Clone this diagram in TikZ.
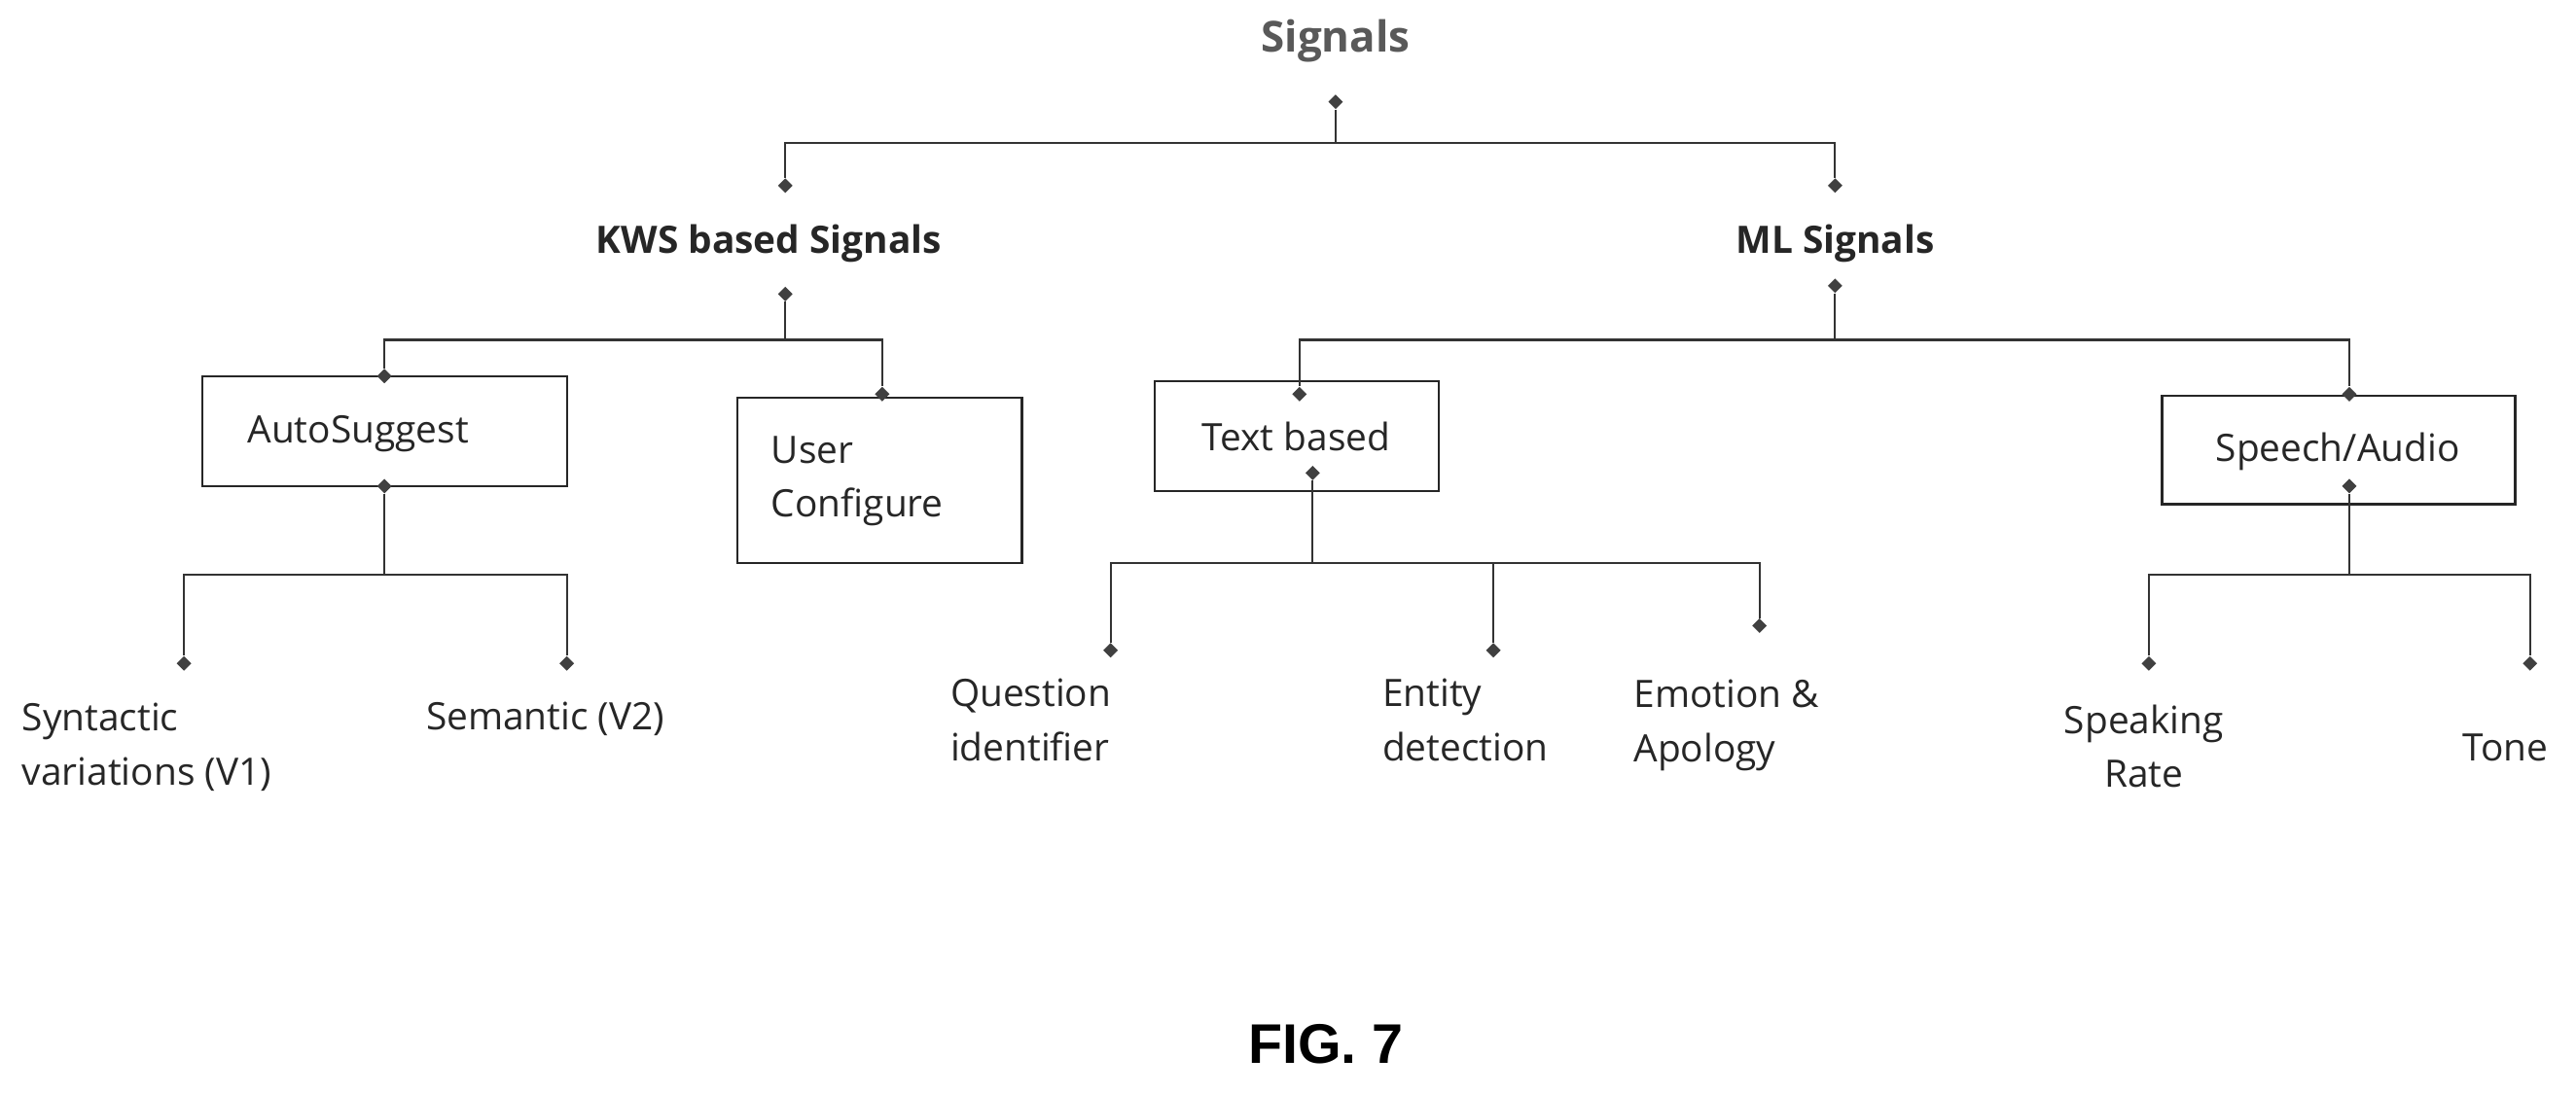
\documentclass[tikz,border=0pt]{standalone}
\usepackage{fontspec}
\setmainfont{Open Sans}
\newfontfamily\figfont{Liberation Sans}
\usetikzlibrary{shapes.geometric}
\begin{document}
\begin{tikzpicture}[x=1pt,y=-1pt,
  dm/.style={diamond,fill=black!75,inner sep=0pt,minimum size=9pt},
  ln/.style={draw=black!80,line width=1.3pt},
  bx/.style={draw=black!85,line width=1.3pt,inner sep=0pt},
  lab/.style={font=\fontsize{23}{33}\selectfont,text=black!85},
  hd/.style={font=\fontsize{23}{28}\selectfont\bfseries,text=black!85}]
\useasboundingbox (0,0) rectangle (1568,665);
% title
\node[hd,text=black!65,font=\fontsize{26}{30}\selectfont\bfseries] (sig) at (813,25) {Signals};
\node[dm] (d0) at (813,62) {};
\coordinate (j0) at (813,87);
\node[dm] (dk) at (478,113) {};
\node[dm] (dm1) at (1117,113) {};
\draw[ln] (d0)--(j0) (dk) |- (j0) -| (dm1);
\node[hd] (kws) at (468,148) {KWS based Signals};
\node[hd] (ml) at (1117,148) {ML Signals};
% KWS branch
\node[dm] (dk2) at (478,179) {};
\coordinate (j1) at (478,207);
\node[bx,minimum width=222pt,minimum height=67pt] (auto) at (234,262.5) {};
\node[lab] at (218,264) {AutoSuggest};
\node[bx,minimum width=173pt,minimum height=101pt] (user) at (535.5,292.5) {};
\node[lab,align=left,anchor=west] at (466,293) {User\\Configure};
\node[dm] (da) at (234,229) {};
\node[dm] (du) at (537,240) {};
\draw[ln] (dk2)--(j1) (da) |- (j1) -| (du);
\node[dm] (da2) at (234,296) {};
\coordinate (j2) at (234,350);
\node[dm] (ds1) at (112,404) {};
\node[dm] (ds2) at (345,404) {};
\draw[ln] (da2)--(j2) (ds1) |- (j2) -| (ds2);
\node[lab,align=left,anchor=west] at (10,455) {Syntactic\\variations (V1)};
\node[lab] at (332,438) {Semantic (V2)};
% ML branch
\node[dm] (dm2) at (1117,174) {};
\coordinate (j3) at (1117,207);
\node[bx,minimum width=173pt,minimum height=67pt] (text) at (789.5,265.5) {};
\node[lab] at (789,266) {Text based};
\node[bx,minimum width=215pt,minimum height=66pt] (speech) at (1423.5,274) {};
\node[lab] at (1423,275) {Speech/Audio};
\node[dm] (dt) at (791,240) {};
\node[dm] (dsp) at (1430,240) {};
\draw[ln] (dm2)--(j3) (dt) |- (j3) -| (dsp);
\node[dm] (dt2) at (799,288) {};
\coordinate (j4) at (799,343);
\node[dm] (dq) at (676,396) {};
\node[dm] (de) at (909,396) {};
\node[dm] (dem) at (1071,381) {};
\draw[ln] (dt2)--(j4) (dq) |- (j4) -| (dem) (de)--(909,343);
\node[lab,align=left,anchor=west] at (575,438.5) {Question\\identifier};
\node[lab,align=left,anchor=west] at (838,438.5) {Entity\\detection};
\node[lab,align=left,anchor=west] at (991,441.5) {Emotion \&\\Apology};
\node[dm] (dsp2) at (1430,296) {};
\coordinate (j5) at (1430,350);
\node[dm] (dr) at (1308,404) {};
\node[dm] (dto) at (1540,404) {};
\draw[ln] (dsp2)--(j5) (dr) |- (j5) -| (dto);
\node[lab,align=center] at (1305,454.5) {Speaking\\Rate};
\node[lab] at (1525,455) {Tone};
\node[font=\figfont\fontsize{34}{40}\selectfont\bfseries] (fig) at (807,636) {FIG. 7};
\end{tikzpicture}
\end{document}
